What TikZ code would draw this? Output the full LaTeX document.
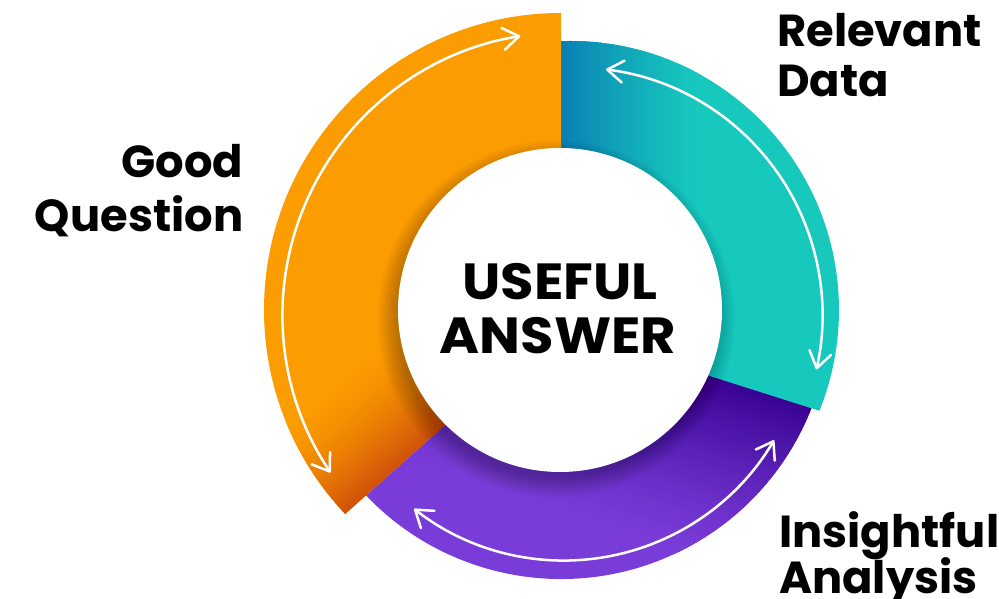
\documentclass[tikz,border=0pt]{standalone}
\usepackage{fontspec}
\setmainfont{Poppins}
\usetikzlibrary{arrows.meta,calc}
\definecolor{corange}{HTML}{FB9C00}
\definecolor{corangeD}{HTML}{D2530A}
\definecolor{cteal}{HTML}{17C8BD}
\definecolor{cblue}{HTML}{0878B3}
\definecolor{cpurple}{HTML}{7A3CD9}
\definecolor{cindigo}{HTML}{3A0394}
\tikzset{
  lbl/.style={font=\fontsize{45}{50}\selectfont\bfseries, inner sep=0pt, text=black},
  ctr/.style={font=\fontsize{51}{56}\selectfont\bfseries\addfontfeature{FakeStretch=1.07}, inner sep=0pt, text=black},
  cyc/.style={draw=white, line width=2.5bp, line cap=round,
    >={Straight Barb[length=16bp,width=22bp,line cap=round,line join=round]}, <->}
}
\begin{document}
\begin{tikzpicture}[x=1bp,y=1bp]
\useasboundingbox (0,0) rectangle (999,599);
\coordinate (C) at (561,289);
\coordinate (T) at (570,289);
\coordinate (W) at (560,289);
\coordinate (oi) at (445,174);
\coordinate (ti) at (710,223);
% purple segment (extended under neighbours)
\fill[cpurple] (C) -- ($(C)+(212:269)$) arc[start angle=212,end angle=350,radius=269] -- cycle;
\begin{scope}
  \clip (C) -- ($(C)+(212:269)$) arc[start angle=212,end angle=350,radius=269] -- cycle;
  \begin{scope}[shift={(ti)}, rotate=-17.6]
    \foreach \i in {0,...,35}{
      \pgfmathtruncatemacro{\p}{100*(1-\i/35)^1.3}
      \fill[cindigo!\p!cpurple] (-500,{-\i*5}) -- (200,{-\i*5}) -- (200,{-\i*5-5.6}) -- (-500,{-\i*5-5.6}) -- cycle;
    }
  \end{scope}
\end{scope}
% teal segment
\fill[cteal] (T) -- ($(T)+(94.3:269)$) arc[start angle=94.3,end angle=-22,radius=269] -- (ti) -- cycle;
\begin{scope}
  \clip (T) -- ($(T)+(94.3:269)$) arc[start angle=94.3,end angle=-22,radius=269] -- (ti) -- cycle;
  \foreach \i in {0,...,37}{
    \pgfmathtruncatemacro{\p}{100*(1-\i/37)^1.2}
    \fill[cblue!\p!cteal] ({548+\i*4},280) -- ({548+\i*4+4.6},280) -- ({548+\i*4+4.6},600) -- ({548+\i*4},600) -- cycle;
  }
\end{scope}
% orange segment
\fill[corange] (C) -- ($(C)+(90:297)$) arc[start angle=90,end angle=223.4,radius=297] -- (oi) -- cycle;
\begin{scope}
  \clip (C) -- ($(C)+(90:297)$) arc[start angle=90,end angle=223.4,radius=297] -- (oi) -- cycle;
  \begin{scope}[shift={(oi)}, rotate=41.7]
    \foreach \i in {0,...,29}{
      \pgfmathtruncatemacro{\p}{100*(1-\i/29)^1.5}
      \fill[corangeD!\p!corange] (-250,{\i*3.5}) -- (80,{\i*3.5}) -- (80,{\i*3.5+4}) -- (-250,{\i*3.5+4}) -- cycle;
    }
  \end{scope}
\end{scope}
% shadow of the centre disc
\foreach \k in {1,...,16}{
  \fill[black, opacity=0.017] ($(W)+(-4,-9)$) circle ({158+1.3*\k});
}
% centre disc
\fill[white] (W) circle (162);
% cycle arrows
\coordinate (oa) at (565,284);
\coordinate (ta) at (575,284);
\coordinate (pa) at (564,282);
\draw[cyc] ($(oa)+(213.9:282.5)$) arc[start angle=213.9,end angle=99.1,radius=282.5];
\draw[cyc] ($(ta)+(82.8:247.5)$) arc[start angle=82.8,end angle=-12.7,radius=247.5];
\draw[cyc] ($(pa)+(232:243.5)$) arc[start angle=232,end angle=329.6,radius=243.5];
% labels
\node[lbl, anchor=base east] (good) at (243.5,421.7) {Good};
\node[lbl, anchor=base east] (question) at (243.5,367.3) {Question};
\node[lbl, anchor=base west] (relevant) at (777,552.3) {Relevant};
\node[lbl, anchor=base west] (data) at (777,502.3) {Data};
\node[lbl, anchor=base west] (insightful) at (779,51.7) {Insightful};
\node[lbl, anchor=base west] (analysis) at (779,5) {Analysis};
\node[ctr, anchor=base] (useful) at (560,299) {USEFUL};
\node[ctr, anchor=base] (answer) at (558,245) {ANSWER};
\end{tikzpicture}
\end{document}
